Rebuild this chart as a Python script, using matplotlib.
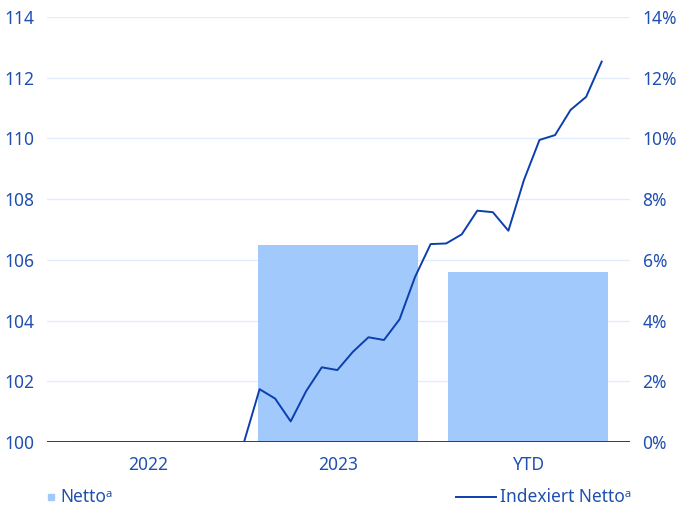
import matplotlib
matplotlib.use("Agg")
import matplotlib.pyplot as plt
from matplotlib.lines import Line2D
from matplotlib.patches import Rectangle
from matplotlib.ticker import FuncFormatter

plt.rcParams['font.family'] = ['Noto Sans', 'DejaVu Sans']

categories = ["2022", "2023", "YTD"]
netto_pct = [0.0, 6.5, 5.6]

index_2022 = [100.0] * 12
index_2023 = [101.74, 101.43, 100.68, 101.68, 102.46, 102.37, 102.97, 103.45,
              103.36, 104.04, 105.44, 106.52]
index_2024 = [106.54, 106.84, 107.62, 107.57, 106.96, 108.63, 109.95, 110.11,
              110.94, 111.37, 112.53]
index_values = index_2022 + index_2023 + index_2024

left_ticks = [100, 102, 104, 106, 108, 110, 112, 114]
right_ticks = [0, 2, 4, 6, 8, 10, 12, 14]

TEXT = '#1f4fb0'
LINE = '#0b3fae'
BAR = '#a1c9fb'
GRID = '#e2edfc'

fig = plt.figure(figsize=(6.82, 5.12), dpi=100)
ax = fig.add_axes([47/682, 1-442/512, (630-47)/682, (442-17)/512])

ax.set_ylim(100, 114)
ax.set_yticks(left_ticks)
ax.set_xlim(-0.532, 2.537)
ax.set_xticks(range(len(categories)))
ax.set_xticklabels(categories)
ax.grid(axis='y', color=GRID, linewidth=1)
ax.set_axisbelow(True)
for s in ax.spines.values():
    s.set_visible(False)
ax.tick_params(axis='both', length=0, colors=TEXT, labelsize=12.5)
ax.tick_params(axis='x', pad=10)
ax.tick_params(axis='y', pad=9)

ax2 = ax.twinx()
ax2.set_ylim(0, 14)
ax2.set_yticks(right_ticks)
ax2.yaxis.set_major_formatter(FuncFormatter(lambda v, p: f"{v:.0f}%"))
ax2.bar(range(len(categories)), netto_pct, width=0.842, color=BAR, zorder=2)
for s in ax2.spines.values():
    s.set_visible(False)
ax2.tick_params(axis='y', length=0, colors=TEXT, labelsize=12.5, pad=9)

ax3 = ax.twiny()
ax3.set_xlim(-1.67, 35.82)
ax3.set_ylim(100, 114)
ax3.plot(range(len(index_values)), index_values, color=LINE, linewidth=1.4, zorder=3)
ax3.axhline(100, color=LINE, linewidth=1.4)
ax3.set_xticks([])
for s in ax3.spines.values():
    s.set_visible(False)

# legend
ly = 1 - 497/512
fig.patches.append(Rectangle((48/682, ly - 3/512), 6/682, 6/512, transform=fig.transFigure,
                             color=BAR, figure=fig))
fig.text(60/682, ly, "Netto\u1d43", color=TEXT, fontsize=12.5, va='center', ha='left')
fig.lines.append(Line2D([456/682, 496/682], [ly, ly], transform=fig.transFigure,
                        color=LINE, linewidth=1.4, figure=fig))
fig.text(500/682, ly, "Indexiert Netto\u1d43", color=TEXT, fontsize=12.5, va='center', ha='left')

fig.savefig("out.png", dpi=100)
